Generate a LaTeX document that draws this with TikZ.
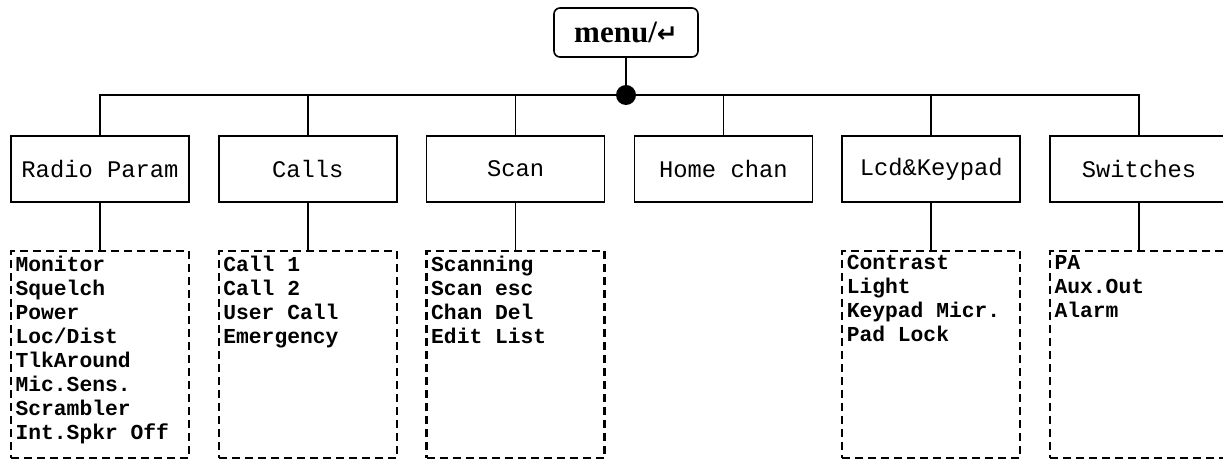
\documentclass[tikz,border=0pt]{standalone}
\usepackage{fontspec}
\setmainfont{Liberation Serif}
\setmonofont{Liberation Mono}
\newfontfamily\symfont{DejaVu Sans}
\usetikzlibrary{positioning,calc}

\begin{document}
\begin{tikzpicture}[
      x=1pt,y=1pt,line width=1.6pt,node distance = 47pt and 28.2pt,
      menubox/.style = {draw,rectangle,rounded corners=6pt,minimum width=144pt,minimum height=49pt,font=\fontsize{31}{32}\selectfont\bfseries},
      group/.style = {draw,rectangle,minimum width=178pt,minimum height=66pt,font=\ttfamily\fontsize{23.8}{26}\selectfont},
      sublist/.style = {draw,rectangle,line width=2.4pt,dash pattern=on 8pt off 5pt,minimum width=178pt,minimum height=207pt},
      items/.style = {align=left,inner sep=0pt,anchor=north west,execute at begin node=\strut,font=\ttfamily\bfseries\fontsize{21.3}{24}\selectfont},
      bus/.style = {line width=2.6pt}
    ]
      \useasboundingbox (0,0) rectangle (1223,458);
      \node (menu)[menubox] at (626,425.5) {menu/{\symfont\fontsize{25}{25}\selectfont ↵}};
      \node (radio)[group] at (100,289) {Radio Param};
      \node (calls)[group,right = of radio] {Calls};
      \node (scan)[group,right = of calls] {Scan};
      \node (home)[group,right = of scan] {Home chan};
      \node (lcd)[group,right = of home] {Lcd\&Keypad};
      \node (switches)[group,right = of lcd] {Switches};

      \node (radio-list)[sublist,below = of radio] {};
      \node (calls-list)[sublist,below = of calls] {};
      \node (scan-list)[sublist,below = of scan] {};
      \node (lcd-list)[sublist,below = of lcd] {};
      \node (switches-list)[sublist,below = of switches] {};

      \node (radio-text)[items] at ($(radio-list.north west)+(5,-5)$) {Monitor\\Squelch\\Power\\Loc/Dist\\TlkAround\\Mic.Sens.\\Scrambler\\Int.Spkr Off};
      \node (calls-text)[items] at ($(calls-list.north west)+(5,-5)$) {Call 1\\Call 2\\User Call\\Emergency};
      \node (scan-text)[items] at ($(scan-list.north west)+(5,-5)$) {Scanning\\Scan esc\\Chan Del\\Edit List};
      \node (lcd-text)[items] at ($(lcd-list.north west)+(5,-5)$) {Contrast\\Light\\Keypad Micr.\\Pad Lock};
      \node (switches-text)[items] at ($(switches-list.north west)+(5,-5)$) {PA\\Aux.Out\\Alarm};

      \coordinate (hub) at (menu.south |- 0,363);
      \draw (menu.south) -- (hub);
      \foreach \g in {radio,calls,scan,home,lcd,switches}
        \draw (hub) -| (\g.north);
      \draw[bus] (hub -| calls.north) -- (hub -| lcd.north);
      \foreach \g in {radio,calls,scan,lcd,switches}
        \draw (\g.south) -- (\g-list.north);
      \fill (hub) circle (10pt);
    \end{tikzpicture}
\end{document}
